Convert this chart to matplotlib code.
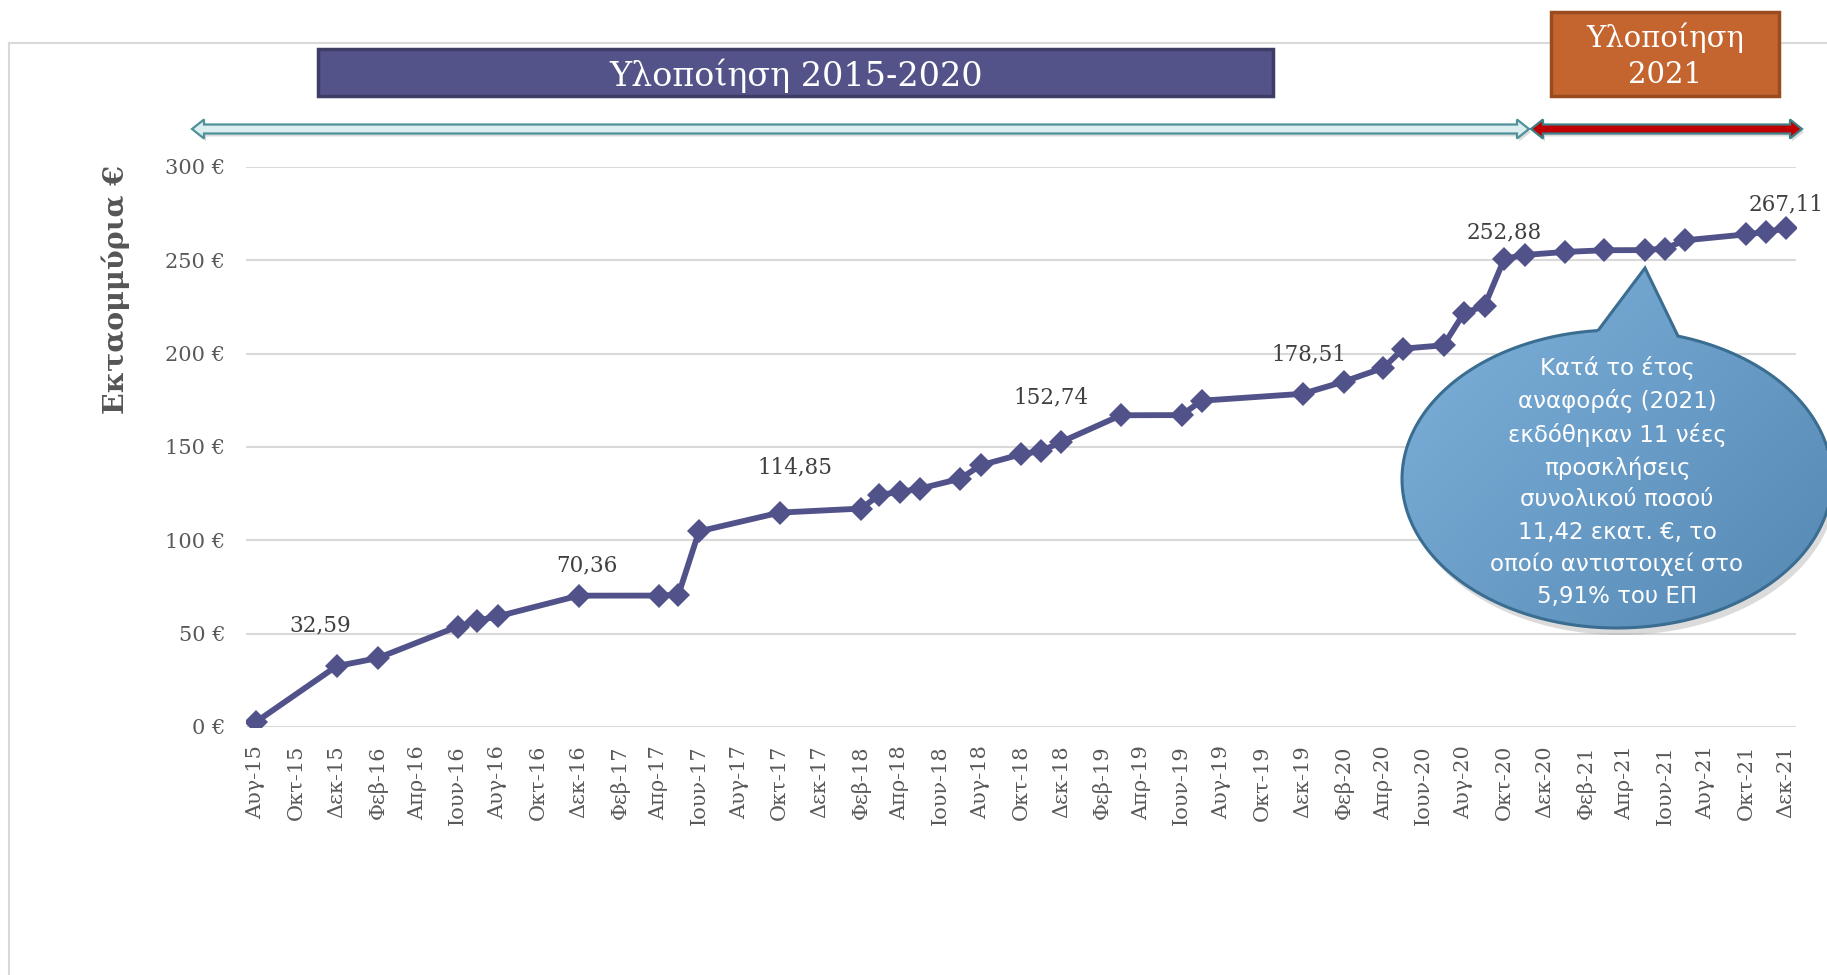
"""
Cumulative calls for proposals (million EUR), Aug-2015 to Dec-2021,
with the 2015-2020 / 2021 implementation banners and the 2021 callout.

Outputs: out.png
"""

import numpy as np
import pandas as pd
import matplotlib
matplotlib.use("Agg")
import matplotlib.pyplot as plt
from matplotlib.patches import Rectangle, Polygon

# ── Data ────────────────────────────────────────────────────────────────
DATES = [
    "2015-08", "2015-12", "2016-02", "2016-06", "2016-07", "2016-08",
    "2016-12", "2017-04", "2017-05", "2017-06", "2017-10", "2018-02",
    "2018-03", "2018-04", "2018-05", "2018-07", "2018-08", "2018-10",
    "2018-11", "2018-12", "2019-03", "2019-06", "2019-07", "2019-12",
    "2020-02", "2020-04", "2020-05", "2020-07", "2020-08", "2020-09",
    "2020-10", "2020-11", "2021-01", "2021-03", "2021-05", "2021-06",
    "2021-07", "2021-10", "2021-11", "2021-12",
]
VALUES = [
    2.7, 32.59, 36.9, 53.8, 57.0, 59.3,
    70.36, 70.4, 70.9, 104.8, 114.85, 117.0,
    124.4, 125.9, 127.7, 133.0, 140.2, 146.1,
    147.9, 152.74, 167.0, 167.1, 174.8, 178.51,
    185.0, 192.4, 202.7, 204.5, 221.8, 225.6,
    250.9, 252.88, 254.5, 255.4, 255.5, 256.3,
    260.7, 263.9, 265.2, 267.11,
]

LABEL_DATES = ["2015-12", "2016-12", "2017-10", "2018-12",
               "2019-12", "2020-11", "2021-12"]
LABEL_TEXTS = ["32,59", "70,36", "114,85", "152,74",
               "178,51", "252,88", "267,11"]

X_TICK_LABELS = [
    "Αυγ-15", "Οκτ-15", "Δεκ-15", "Φεβ-16", "Απρ-16", "Ιουν-16",
    "Αυγ-16", "Οκτ-16", "Δεκ-16", "Φεβ-17", "Απρ-17", "Ιουν-17",
    "Αυγ-17", "Οκτ-17", "Δεκ-17", "Φεβ-18", "Απρ-18", "Ιουν-18",
    "Αυγ-18", "Οκτ-18", "Δεκ-18", "Φεβ-19", "Απρ-19", "Ιουν-19",
    "Αυγ-19", "Οκτ-19", "Δεκ-19", "Φεβ-20", "Απρ-20", "Ιουν-20",
    "Αυγ-20", "Οκτ-20", "Δεκ-20", "Φεβ-21", "Απρ-21", "Ιουν-21",
    "Αυγ-21", "Οκτ-21", "Δεκ-21",
]
Y_TICKS = [0, 50, 100, 150, 200, 250, 300]
Y_TICK_LABELS = ["0 €", "50 €", "100 €", "150 €", "200 €", "250 €", "300 €"]

Y_LABEL = "Εκταομμύρια €"
BANNER_1 = "Υλοποίηση 2015-2020"
BANNER_2 = "Υλοποίηση\n2021"
CALLOUT = ("Κατά το έτος\nαναφοράς (2021)\nεκδόθηκαν 11 νέες\nπροσκλήσεις\n"
           "συνολικού ποσού\n11,42 εκατ. €, το\nοποίο αντιστοιχεί στο\n5,91% του ΕΠ")

# ── Style ───────────────────────────────────────────────────────────────
W, H = 1827, 975
LINE_COLOR = "#52528A"
GRID_COLOR = "#D9D9D9"
TEXT_GRAY = "#595959"
SERIF = "DejaVu Serif"
plt.rcParams["font.family"] = SERIF

# label offsets in pixels (dx, dy)
LABEL_OFFSETS = [(-16, 30), (8, 19), (15, 34), (-10, 33),
                 (6, 28), (-21, 12), (0, 13)]


def plot():
    dates = pd.to_datetime(DATES)
    fig = plt.figure(figsize=(W / 100, H / 100), dpi=100)
    fig.patch.set_facecolor("white")

    # main axes placed in pixel terms
    ax = fig.add_axes([246 / W, 1 - 727 / H, 1550 / W, 560 / H], zorder=1)
    ax.plot(dates, VALUES, color=LINE_COLOR, lw=4.2, marker="D",
            markersize=12, markeredgewidth=0, solid_joinstyle="round",
            zorder=3)

    for d, txt, (dx, dy) in zip(LABEL_DATES, LABEL_TEXTS, LABEL_OFFSETS):
        v = VALUES[DATES.index(d)]
        ax.annotate(txt, xy=(pd.Timestamp(d), v), xytext=(dx, dy),
                    textcoords="offset pixels", ha="center", va="bottom",
                    fontsize=15.5, color="#404040", annotation_clip=False)

    ax.set_ylim(0, 300)
    ax.set_xlim(pd.Timestamp("2015-07-17"), pd.Timestamp("2021-12-16"))
    ax.set_yticks(Y_TICKS)
    ax.set_yticklabels(Y_TICK_LABELS)
    ax.set_xticks(pd.date_range("2015-08-01", "2021-12-01", freq="2MS"))
    ax.set_xticklabels(X_TICK_LABELS, rotation=90)
    ax.tick_params(axis="both", length=0, labelsize=15, labelcolor=TEXT_GRAY)
    ax.tick_params(axis="y", pad=15)
    ax.tick_params(axis="x", pad=13)
    ax.grid(axis="y", color=GRID_COLOR, lw=1.5)
    ax.set_axisbelow(True)
    for s in ax.spines.values():
        s.set_visible(False)

    # ── Overlay in pixel coordinates (banners, arrows, callout) ────────
    ov = fig.add_axes([0, 0, 1, 1], zorder=2)
    ov.set_xlim(0, W)
    ov.set_ylim(H, 0)
    ov.axis("off")
    ov.patch.set_alpha(0)

    # outer frame
    ov.plot([9, W], [43, 43], color=GRID_COLOR, lw=1.5, zorder=1)
    ov.plot([9, 9], [43, H], color=GRID_COLOR, lw=1.5, zorder=1)

    ov.text(116, 290, Y_LABEL, rotation=90, ha="center", va="center",
            fontsize=20.5, fontweight="bold", color="#555555")

    # banners
    ov.add_patch(Rectangle((318, 49), 955, 47, facecolor="#53538A",
                           edgecolor="#3D3D66", lw=2.5, zorder=3))
    ov.text(796, 76, BANNER_1, ha="center", va="center", fontsize=24,
            color="white", zorder=4)
    ov.add_patch(Rectangle((1551, 12), 228, 84, facecolor="#C4652F",
                           edgecolor="#9B4B20", lw=2.5, zorder=3))
    ov.text(1665, 56, BANNER_2, ha="center", va="center", fontsize=21,
            color="white", linespacing=1.35, zorder=4)

    # double-headed block arrows
    def block_arrow(x0, x1, y, face, edge, h=4.5, hh=9.5, hl=12):
        pts = [(x0, y), (x0 + hl, y - hh), (x0 + hl, y - h), (x1 - hl, y - h),
               (x1 - hl, y - hh), (x1, y), (x1 - hl, y + hh), (x1 - hl, y + h),
               (x0 + hl, y + h), (x0 + hl, y + hh)]
        shadow = [(px + 2, py + 3) for px, py in pts]
        ov.add_patch(Polygon(shadow, closed=True, facecolor="#BBBBBB",
                             edgecolor="none", alpha=0.5, zorder=2))
        ov.add_patch(Polygon(pts, closed=True, facecolor=face, edgecolor=edge,
                             lw=1.6, joinstyle="miter", zorder=3))

    block_arrow(192, 1529, 129, "#DCEEF0", "#4E9199")
    block_arrow(1531, 1802, 129, "#C00000", "#3E8088")

    # callout bubble: ellipse + tail toward the 2021 points
    cx, cy, a, b = 1617, 479, 215, 149
    t1 = np.arccos((1678 - cx) / a)
    t2 = np.arccos((1598 - cx) / a)
    t = np.linspace(t2, t1 + 2 * np.pi, 300)
    bubble = np.column_stack([cx + a * np.cos(t), cy - b * np.sin(t)])
    bubble = np.vstack([bubble, [[1645, 268]]])

    ov.add_patch(Polygon(bubble + [4, 7], closed=True, facecolor="#9A9A9A",
                         edgecolor="none", alpha=0.35, zorder=5))
    shape = Polygon(bubble, closed=True, facecolor="none",
                    edgecolor="#3B6D91", lw=2.2, zorder=7)
    ov.add_patch(shape)

    gx, gy = np.meshgrid(np.linspace(0, 1, 200), np.linspace(0, 1, 200))
    g = 0.55 * gx + 0.45 * gy
    top = np.array([0.50, 0.70, 0.86])
    bot = np.array([0.33, 0.53, 0.70])
    img = top[None, None, :] * (1 - g[..., None]) + bot[None, None, :] * g[..., None]
    im = ov.imshow(img, extent=[cx - a, cx + a, cy + b, 268], origin="upper",
                   aspect="auto", zorder=6, interpolation="bilinear")
    clip = Polygon(bubble, closed=True, transform=ov.transData)
    im.set_clip_path(clip)
    ov.set_xlim(0, W)
    ov.set_ylim(H, 0)

    ov.text(cx, 482, CALLOUT, ha="center", va="center", fontsize=16.5,
            family="DejaVu Sans", color="white", linespacing=1.5, zorder=8)

    fig.savefig("out.png", dpi=100)
    return fig


if __name__ == "__main__":
    plot()
